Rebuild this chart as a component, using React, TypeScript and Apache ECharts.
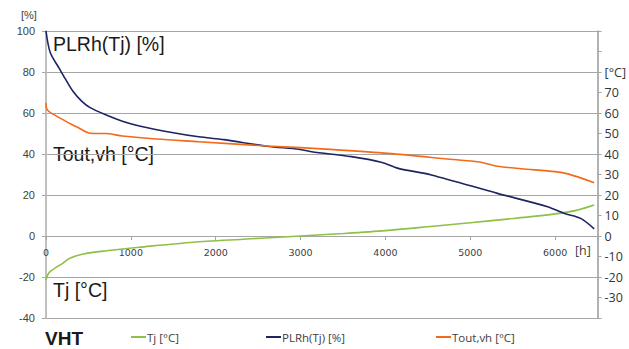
import React, { useEffect, useRef } from 'react';
import * as echarts from 'echarts';

// PLRh(Tj) [%] versus hours
const plrHours = [0, 50, 160, 230, 320, 420, 520, 710, 900, 1100, 1500, 1800, 2100, 2600, 2980, 3130, 3600, 3950, 4150, 4540, 5320, 5910, 6110, 6300, 6460];
const plrValues = [100, 89.5, 81.5, 76.5, 70.5, 65.8, 62.6, 59, 56, 53.7, 50.4, 48.4, 47, 43.8, 42.3, 41.1, 38.7, 36, 33, 29.8, 20.8, 14.3, 11, 8.6, 3.5];

// Tout,vh [°C] versus hours
const toutHours = [0, 15, 90, 240, 360, 480, 560, 700, 900, 1300, 1800, 2600, 3000, 3200, 4030, 4800, 5090, 5320, 5600, 6000, 6150, 6460];
const toutValues = [65, 61.5, 59.3, 55.8, 53.3, 50.6, 50, 50, 48.8, 47.3, 46, 43.9, 43.1, 42.6, 40.3, 37.3, 36.2, 34, 32.8, 31.4, 30.3, 26];

// Tj [°C] versus hours
const tjHours = [0, 20, 47, 200, 281, 437, 711, 1100, 1805, 2580, 3000, 3500, 4000, 4500, 5000, 5500, 6000, 6250, 6460];
const tjValues = [-21.5, -19, -17.4, -13.2, -10.9, -8.8, -7.2, -5.5, -2.8, -1.0, 0, 1.2, 2.6, 4.5, 6.5, 8.5, 10.8, 12.5, 15.1];

const seriesNames = ['Tj [°C]', 'PLRh(Tj) [%]', 'Tout,vh [°C]'];
const seriesColors = ['#8DC045', '#1C2461', '#F26A1B'];

const pairs = (xs: number[], ys: number[]) => xs.map((x, i) => [x, ys[i]]);

export default function App() {
  const ref = useRef<HTMLDivElement>(null);
  useEffect(() => {
    if (!ref.current) return;
    const chart = echarts.init(ref.current, null, { renderer: 'svg' });
    const gridColor = '#A6A6A6';
    const labelColor = '#404040';
    const legendBase = {
      icon: 'rect',
      itemWidth: 15,
      itemHeight: 2,
      top: 331,
      padding: 0,
      textStyle: { fontFamily: 'Open Sans', fontSize: 11.5, color: labelColor, padding: [0, 0, 0, -4] },
    };
    chart.setOption({
      animation: false,
      backgroundColor: '#ffffff',
      grid: { left: 46, right: 28, top: 31, bottom: 31, containLabel: false },
      xAxis: {
        type: 'value',
        min: 0,
        max: 6500,
        interval: 1000,
        position: 'bottom',
        offset: -82,
        axisLine: { show: true, onZero: false, lineStyle: { color: gridColor, width: 1 } },
        axisTick: { show: true, length: 4, lineStyle: { color: gridColor } },
        splitLine: { show: false },
        axisLabel: {
          margin: 11,
          fontFamily: 'DejaVu Sans',
          fontSize: 9.5,
          color: labelColor,
          formatter: (v: number) => (v > 6000 ? '' : String(v)),
        },
      },
      yAxis: [
        {
          type: 'value',
          min: -40,
          max: 100,
          interval: 20,
          position: 'left',
          axisLine: { show: true, onZero: false, lineStyle: { color: '#C0C0C0', width: 2 } },
          axisTick: { show: true, length: 4, lineStyle: { color: gridColor } },
          splitLine: { show: true, lineStyle: { color: gridColor, width: 1 } },
          axisLabel: { margin: 11, fontFamily: 'Liberation Sans', fontSize: 11, color: labelColor },
        },
        {
          type: 'value',
          min: -40,
          max: 100,
          interval: 10,
          position: 'right',
          axisLine: { show: true, onZero: false, lineStyle: { color: '#999999', width: 1.5 } },
          axisTick: { show: true, length: 4, lineStyle: { color: gridColor } },
          splitLine: { show: false },
          axisLabel: {
            margin: 7,
            fontFamily: 'Open Sans',
            fontSize: 12.5,
            color: '#333333',
            formatter: (v: number) => (v === 80 ? '[°C]' : v > 70 || v < -30 ? '' : String(v)),
          },
        },
      ],
      legend: [
        { ...legendBase, left: 131, data: [seriesNames[0]] },
        { ...legendBase, left: 266, data: [seriesNames[1]] },
        { ...legendBase, left: 436, data: [seriesNames[2]] },
      ],
      series: [
        {
          name: seriesNames[0],
          type: 'line',
          yAxisIndex: 1,
          data: pairs(tjHours, tjValues),
          showSymbol: false,
          smooth: 0.3,
          lineStyle: { color: seriesColors[0], width: 1.6 },
          itemStyle: { color: seriesColors[0] },
        },
        {
          name: seriesNames[1],
          type: 'line',
          yAxisIndex: 0,
          data: pairs(plrHours, plrValues),
          showSymbol: false,
          smooth: 0.3,
          lineStyle: { color: seriesColors[1], width: 1.6 },
          itemStyle: { color: seriesColors[1] },
        },
        {
          name: seriesNames[2],
          type: 'line',
          yAxisIndex: 1,
          data: pairs(toutHours, toutValues),
          showSymbol: false,
          smooth: 0.3,
          lineStyle: { color: seriesColors[2], width: 1.6 },
          itemStyle: { color: seriesColors[2] },
        },
      ],
      graphic: [
        { type: 'text', left: 21, top: 9, style: { text: '[%]', fontFamily: 'Liberation Sans', fontSize: 11, fill: labelColor } },
        { type: 'text', left: 575, top: 244, style: { text: '[h]', fontFamily: 'Open Sans', fontSize: 12.5, fill: labelColor } },
        { type: 'text', x: 53, y: 44, style: { text: 'PLRh(Tj) [%]', fontFamily: 'Liberation Sans', fontSize: 19.5, fill: '#1a1a1a', verticalAlign: 'middle' } },
        { type: 'text', x: 53, y: 154, style: { text: 'Tout,vh [°C]', fontFamily: 'Liberation Sans', fontSize: 19.5, fill: '#1a1a1a', verticalAlign: 'middle' } },
        { type: 'text', x: 53, y: 290, style: { text: 'Tj [°C]', fontFamily: 'Liberation Sans', fontSize: 19.5, fill: '#1a1a1a', verticalAlign: 'middle' } },
        { type: 'text', x: 45, y: 338, style: { text: 'VHT', fontFamily: 'Liberation Sans', fontSize: 19, fontWeight: 'bold', fill: '#1a1a1a', verticalAlign: 'middle' } },
      ],
    });
    return () => chart.dispose();
  }, []);
  return <div ref={ref} style={{ position: 'fixed', left: 0, top: 0, width: 629, height: 349 }} />;
}
